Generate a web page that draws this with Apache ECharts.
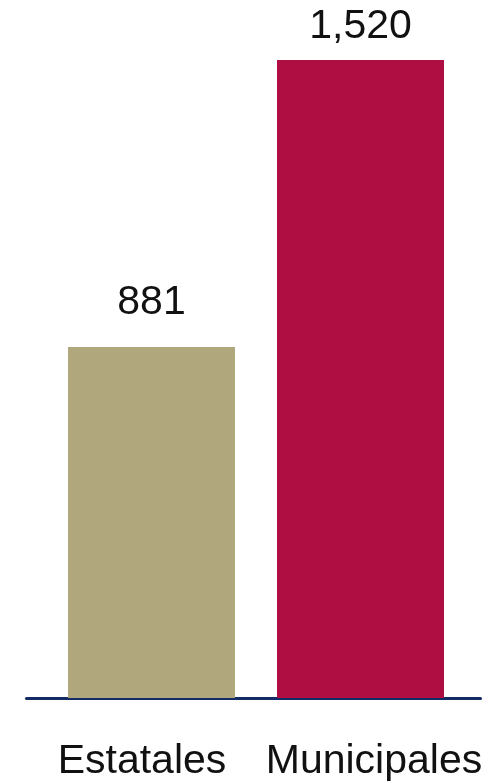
<!DOCTYPE html>
<html>
<head>
<meta charset="utf-8">
<script src="https://cdn.jsdelivr.net/npm/echarts@6/dist/echarts.min.js"></script>
<style>
html,body{margin:0;padding:0;background:#fff;}
#c{width:501px;height:783px;}
</style>
</head>
<body>
<div id="c"></div>
<script>
const categories = ['Estatales', 'Municipales'];
const values = [881, 1520];
const barColors = ['#B0A77C', '#AF0E43'];
const valueLabels = ['881', '1,520'];

const chart = echarts.init(document.getElementById('c'), null, {renderer: 'canvas'});
const font = 'Liberation Sans, Arial, sans-serif';
chart.setOption({
  backgroundColor: '#ffffff',
  animation: false,
  grid: [
    {left: 47, width: 418, top: 60, bottom: 85},
    {left: 26.5, right: 20.5, top: 60, bottom: 85}
  ],
  xAxis: [
    {
      type: 'category', gridIndex: 0,
      data: [
        {value: categories[0], textStyle: {padding: [0, 19, 0, 0]}},
        {value: categories[1], textStyle: {padding: [0, 0, 0, 27]}}
      ],
      axisLine: {show: false}, axisTick: {show: false},
      axisLabel: {interval: 0, margin: 43, fontSize: 41, color: '#111', fontFamily: font}
    },
    {
      type: 'category', gridIndex: 1, data: ['a'],
      axisLine: {show: true, lineStyle: {color: '#142C66', width: 3}},
      axisTick: {show: false}, axisLabel: {show: false}
    }
  ],
  yAxis: [
    {type: 'value', gridIndex: 0, min: 100, max: 1520, show: false},
    {type: 'value', gridIndex: 1, min: 0, max: 1, show: false}
  ],
  series: [{
    type: 'bar', xAxisIndex: 0, yAxisIndex: 0,
    barWidth: 167,
    data: values.map((v, i) => ({
      value: v,
      itemStyle: {color: barColors[i]},
      label: {distance: i === 0 ? 24 : 13}
    })),
    label: {
      show: true, position: 'top', fontSize: 41, color: '#111', fontFamily: font,
      formatter: p => valueLabels[p.dataIndex]
    }
  }]
});
</script>
</body>
</html>
